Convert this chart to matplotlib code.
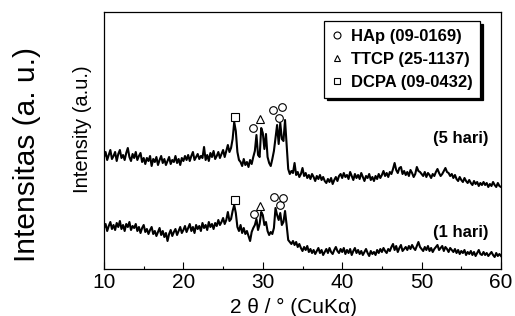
import numpy as np
import matplotlib
matplotlib.use("Agg")
import matplotlib.pyplot as plt
from matplotlib.lines import Line2D

plt.rcParams['font.family'] = ['Liberation Sans', 'DejaVu Sans']

# ---- data (2θ grid 10..60 step 0.2) ----
two_theta = np.round(np.arange(10.0, 60.0001, 0.2), 1)

hari5 = [
    112, 117, 109, 114, 119, 110, 113, 117, 108, 115,
    119, 111, 114, 109, 116, 121, 112, 108, 115, 111,
    117, 109, 113, 116, 107, 111, 105, 111, 108, 113,
    103, 110, 107, 112, 104, 109, 113, 106, 110, 104,
    108, 112, 105, 109, 107, 113, 106, 110, 104, 111,
    108, 113, 109, 114, 108, 113, 117, 109, 112, 115,
    110, 113, 111, 122, 109, 114, 108, 116, 112, 118,
    110, 113, 117, 111, 115, 119, 112, 118, 124, 117,
    121, 130, 147, 138, 117, 109, 107, 103, 110, 104,
    107, 102, 109, 105, 112, 118, 134, 114, 112, 141,
    136, 120, 135, 112, 106, 103, 110, 118, 131, 144,
    125, 146, 130, 128, 149, 124, 100, 95, 98, 96,
    106, 94, 97, 92, 95, 101, 93, 96, 91, 94,
    90, 95, 92, 88, 93, 90, 94, 89, 92, 88,
    86, 90, 87, 91, 85, 89, 92, 88, 93, 95,
    91, 96, 92, 94, 90, 97, 93, 89, 95, 91,
    94, 90, 96, 92, 88, 93, 91, 95, 89, 92,
    88, 93, 90, 95, 91, 94, 98, 93, 96, 92,
    97, 95, 100, 106, 99, 96, 101, 102, 95, 98,
    94, 97, 93, 99, 96, 92, 95, 102, 98, 97,
    95, 93, 97, 92, 96, 94, 91, 95, 93, 97,
    100, 96, 93, 95, 98, 101, 97, 96, 93, 95,
    91, 94, 90, 88, 92, 89, 87, 91, 88, 86,
    89, 86, 84, 88, 85, 87, 83, 86, 84, 87,
    84, 86, 82, 85, 83, 87, 84, 82, 86, 83,
    82,
]

hari1 = [
    41, 45, 38, 43, 47, 40, 44, 39, 46, 42,
    48, 40, 44, 38, 45, 42, 47, 39, 43, 41,
    45, 38, 42, 36, 41, 44, 37, 40, 35, 39,
    42, 35, 38, 33, 37, 41, 34, 38, 32, 36,
    28, 35, 39, 33, 37, 40, 34, 38, 42, 36,
    39, 43, 37, 41, 45, 38, 42, 36, 44, 40,
    43, 38, 46, 41, 44, 39, 47, 42, 45, 40,
    46, 43, 49, 44, 47, 51, 45, 49, 57, 48,
    50, 58, 64, 56, 42, 38, 44, 36, 41, 35,
    38, 33, 28, 37, 41, 44, 50, 39, 45, 57,
    54, 44, 47, 38, 34, 37, 35, 41, 61, 54,
    49, 56, 44, 47, 58, 44, 29, 27, 25, 28,
    24, 27, 22, 25, 21, 18, 22, 19, 23, 17,
    20, 16, 19, 15, 18, 21, 16, 19, 14, 17,
    20, 16, 21, 17, 15, 19, 22, 18, 16, 20,
    17, 21, 15, 19, 16, 20, 14, 18, 21, 16,
    19, 15, 18, 14, 17, 20, 16, 13, 18, 15,
    17, 14, 19, 16, 20, 17, 21, 18, 16, 20,
    18, 22, 25, 19, 23, 17, 21, 24, 18, 20,
    22, 19, 23, 20, 24, 21, 19, 23, 27, 22,
    20, 18, 22, 19, 23, 18, 21, 17, 20, 22,
    24, 19, 21, 23, 18, 22, 20, 17, 21, 19,
    17, 20, 16, 19, 15, 18, 16, 19, 14, 17,
    15, 18, 14, 17, 13, 16, 19, 15, 14, 17,
    14, 16, 13, 15, 17, 14, 12, 16, 13, 15,
    13,
]

# phase markers (2θ, intensity)
hap5_x = [28.8, 31.3, 32.0, 32.4]
hap5_y = [141, 159, 151, 162]
ttcp5_x = [29.7]
ttcp5_y = [150]
dcpa5_x = [26.5]
dcpa5_y = [152]

hap1_x = [28.9, 31.4, 32.2, 32.6]
hap1_y = [55, 72, 64, 71]
ttcp1_x = [29.7]
ttcp1_y = [63]
dcpa1_x = [26.5]
dcpa1_y = [69]

legend_labels = ["HAp (09-0169)", "TTCP (25-1137)", "DCPA (09-0432)"]
trace_labels = ["(5 hari)", "(1 hari)"]

# ---- figure ----
W, H = 515, 316
fig = plt.figure(figsize=(W / 100, H / 100), dpi=100)
ax = fig.add_axes([104 / W, 1 - 269 / H, 397 / W, 257 / H])

ax.plot(two_theta, hari5, color='black', lw=1.5)
ax.plot(two_theta, hari1, color='black', lw=1.5)

mk = dict(ls='none', mfc='white', mec='black', mew=0.8, ms=5.5)
ax.plot(hap5_x, hap5_y, marker='o', **mk)
ax.plot(ttcp5_x, ttcp5_y, marker='^', **mk)
ax.plot(dcpa5_x, dcpa5_y, marker='s', **mk)
ax.plot(hap1_x, hap1_y, marker='o', **mk)
ax.plot(ttcp1_x, ttcp1_y, marker='^', **mk)
ax.plot(dcpa1_x, dcpa1_y, marker='s', **mk)

ax.text(58.4, 130, trace_labels[0], ha='right', va='center', fontsize=12, fontweight='bold')
ax.text(58.4, 36, trace_labels[1], ha='right', va='center', fontsize=12, fontweight='bold')

ax.set_xlim(10, 60)
ax.set_ylim(0, 257)
ax.set_xticks([10, 20, 30, 40, 50, 60])
ax.set_xticks([15, 25, 35, 45, 55], minor=True)
ax.set_yticks([])
ax.tick_params(axis='x', which='major', direction='in', length=5, width=0.8, labelsize=15, pad=3)
ax.tick_params(axis='x', which='minor', direction='in', length=2.5, width=0.8)
for s in ax.spines.values():
    s.set_linewidth(0.9)

handles = [
    Line2D([], [], marker='o', ls='none', mfc='white', mec='black', mew=0.8, ms=5),
    Line2D([], [], marker='^', ls='none', mfc='white', mec='black', mew=0.8, ms=5),
    Line2D([], [], marker='s', ls='none', mfc='white', mec='black', mew=0.8, ms=5),
]
leg = ax.legend(handles, legend_labels, loc='upper right',
                bbox_to_anchor=((480 - 104) / 397, (269 - 21) / 257),
                borderaxespad=0, fancybox=False, frameon=True,
                shadow={'color': 'black', 'alpha': 1},
                prop={'weight': 'bold', 'size': 12},
                handlelength=0.6, handletextpad=0.55, labelspacing=0.5,
                borderpad=0.45, edgecolor='black', framealpha=1)
leg.get_frame().set_linewidth(0.9)

fig.text(293 / W, 1 - 307 / H, '2 θ / ° (CuKα)', ha='center', va='center', fontsize=15)
fig.text(27 / W, 1 - 154 / H, 'Intensitas (a. u.)', rotation=90, ha='center', va='center', fontsize=21.5)
fig.text(82 / W, 1 - 129 / H, 'Intensity (a.u.)', rotation=90, ha='center', va='center', fontsize=14.5)

fig.savefig('out.png', dpi=100)
